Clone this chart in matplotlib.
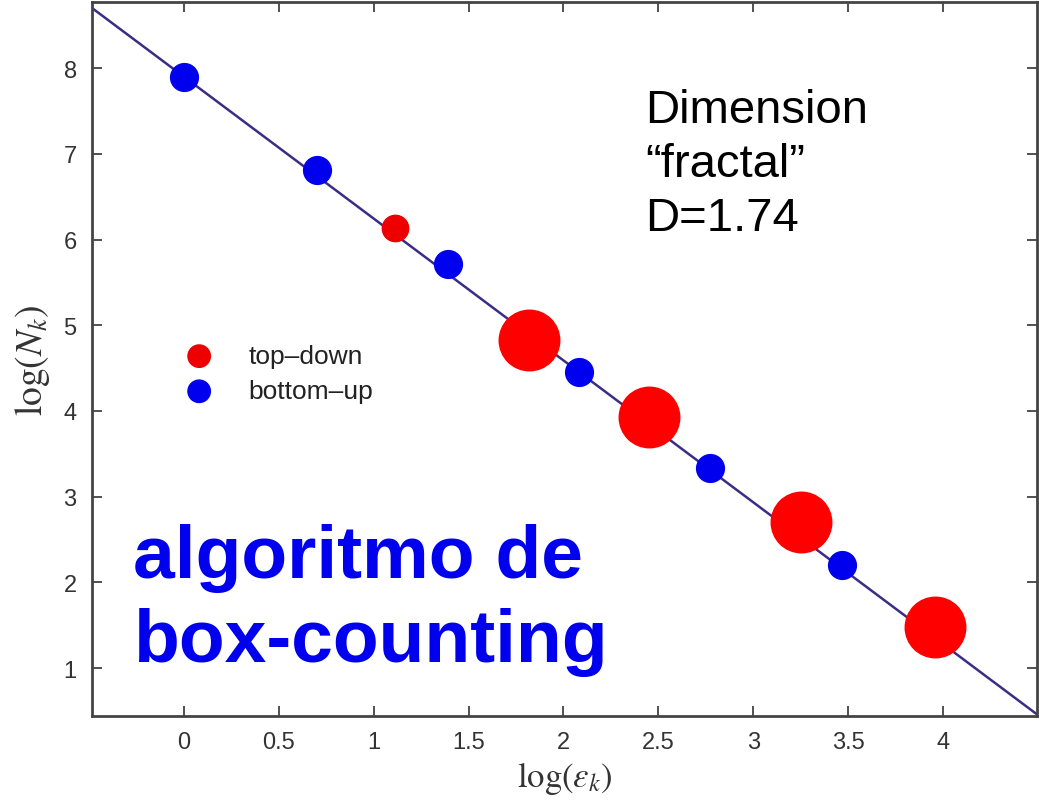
import matplotlib
matplotlib.use("Agg")
import matplotlib.pyplot as plt
import numpy as np

# box-counting data
bottom_up_x = [0.0, 0.70, 1.39, 2.08, 2.77, 3.47]
bottom_up_y = [7.90, 6.81, 5.71, 4.46, 3.34, 2.20]
top_down_x = [1.11, 1.82, 2.45, 3.25, 3.96]
top_down_y = [6.14, 4.83, 3.93, 2.71, 1.48]
top_down_big = [False, True, True, True, True]

fit_x = [-0.5, 4.5]
fit_slope = -1.655
fit_icpt = 7.90

legend_labels = ["top\u2013down", "bottom\u2013up"]

plt.rcParams["mathtext.fontset"] = "stix"

fig = plt.figure(figsize=(10.39, 8.03), dpi=100)
ax = fig.add_axes([0.0885, 0.107, 0.9095, 0.889])

fx = np.array(fit_x)
ax.plot(fx, fit_icpt + fit_slope * fx, color="#3b2d86", lw=1.8, zorder=1)

ax.scatter(bottom_up_x, bottom_up_y, s=400, color="#0000ee", zorder=3)
small = [i for i, b in enumerate(top_down_big) if not b]
big = [i for i, b in enumerate(top_down_big) if b]
ax.scatter([top_down_x[i] for i in small], [top_down_y[i] for i in small],
           s=360, color="#ee0000", zorder=3)
ax.scatter([top_down_x[i] for i in big], [top_down_y[i] for i in big],
           s=1900, color="#ff0000", zorder=4)

# legend drawn by hand like the original figure (no frame)
leg_x = 0.08
leg_y = [4.64, 4.23]
ax.scatter([leg_x, leg_x], leg_y, s=260, color=["#ee0000", "#0000ee"], zorder=3)
for yy, lab in zip(leg_y, legend_labels):
    ax.text(0.34, yy, lab, fontsize=19, va="center", color="#222222",
            family="Liberation Sans")

ax.set_xlim(-0.485, 4.495)
ax.set_ylim(0.44, 8.77)
ax.set_xticks([0, 0.5, 1, 1.5, 2, 2.5, 3, 3.5, 4])
ax.set_xticklabels(["0", "0.5", "1", "1.5", "2", "2.5", "3", "3.5", "4"])
ax.set_yticks([1, 2, 3, 4, 5, 6, 7, 8])
ax.tick_params(direction="in", top=True, right=True, length=7, width=1.2,
               labelsize=17, colors="#333333", pad=11)
for lab in ax.get_xticklabels() + ax.get_yticklabels():
    lab.set_family("Liberation Sans")
for sp in ax.spines.values():
    sp.set_linewidth(2)
    sp.set_color("#444444")

ax.set_xlabel(r"$\mathrm{log}(\varepsilon_k)$", fontsize=25, color="#333333",
              labelpad=4)
ax.set_ylabel(r"$\mathrm{log}(N_k)$", fontsize=27, color="#333333", labelpad=8)

# annotation texts, one line each so the baselines match
dim_lines = ["Dimension", "\u201cfractal\u201d", "D=1.74"]
dim_base = [123, 177, 231]
for t, b in zip(dim_lines, dim_base):
    fig.text(645 / 1039, 1 - b / 803, t, fontsize=34, family="Liberation Sans",
             va="baseline")

algo_lines = ["algoritmo de", "box-counting"]
algo_base = [578, 662]
for t, b in zip(algo_lines, algo_base):
    fig.text(133 / 1039, 1 - b / 803, t, fontsize=54, family="Liberation Sans",
             weight="bold", color="#0000ee", va="baseline")

fig.savefig("out.png", dpi=100)
